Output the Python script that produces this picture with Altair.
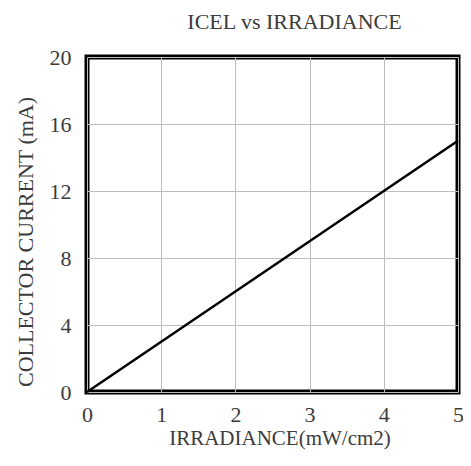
import altair as alt
import pandas as pd

irradiance = [0, 1, 2, 3, 4, 5]
current = [0, 3, 6, 9, 12, 15]
x_ticks = [0, 1, 2, 3, 4, 5]
y_ticks = [0, 4, 8, 12, 16, 20]

df = pd.DataFrame({"x": irradiance, "y": current})

FONT = "Liberation Serif"
TXT = "#3c3c3c"
W, H = 371, 335

chart = alt.Chart(df).mark_line(color="black", strokeWidth=2.5).encode(
    x=alt.X("x:Q", scale=alt.Scale(domain=[0, 5], nice=False),
            axis=alt.Axis(values=x_ticks, title="IRRADIANCE(mW/cm2)", format="d",
                          grid=True, gridColor="#bdbdbd", gridWidth=1,
                          ticks=False, domain=False, labelPadding=12,
                          labelFlush=False,
                          labelFontSize=22, titleFontSize=21,
                          titleX=W / 2 + 7, titleY=52, titleBaseline="alphabetic",
                          titleAlign="center",
                          labelFont=FONT, titleFont=FONT, labelColor=TXT,
                          titleColor=TXT, titleFontWeight="normal")),
    y=alt.Y("y:Q", scale=alt.Scale(domain=[0, 20], nice=False),
            axis=alt.Axis(values=y_ticks, title="COLLECTOR CURRENT (mA)", format="d",
                          grid=True, gridColor="#bdbdbd", gridWidth=1,
                          ticks=False, domain=False, labelPadding=16,
                          labelFlush=False,
                          labelFontSize=22, titleFontSize=22,
                          titleX=-62, titleY=H / 2 + 17, titleAngle=270,
                          titleBaseline="middle", titleAlign="center",
                          labelFont=FONT, titleFont=FONT, labelColor=TXT,
                          titleColor=TXT, titleFontWeight="normal")),
).properties(
    width=W, height=H,
    title=alt.TitleParams("ICEL vs IRRADIANCE", font=FONT, fontSize=22,
                          fontWeight="normal", color=TXT, offset=12, dx=22),
    autosize=alt.AutoSizeParams(type="none"),
    padding={"left": 79, "top": 49, "right": 5, "bottom": 60},
).configure_view(stroke="black", strokeWidth=5)

chart.save("out.html", embed_options={"renderer": "svg", "actions": False})
